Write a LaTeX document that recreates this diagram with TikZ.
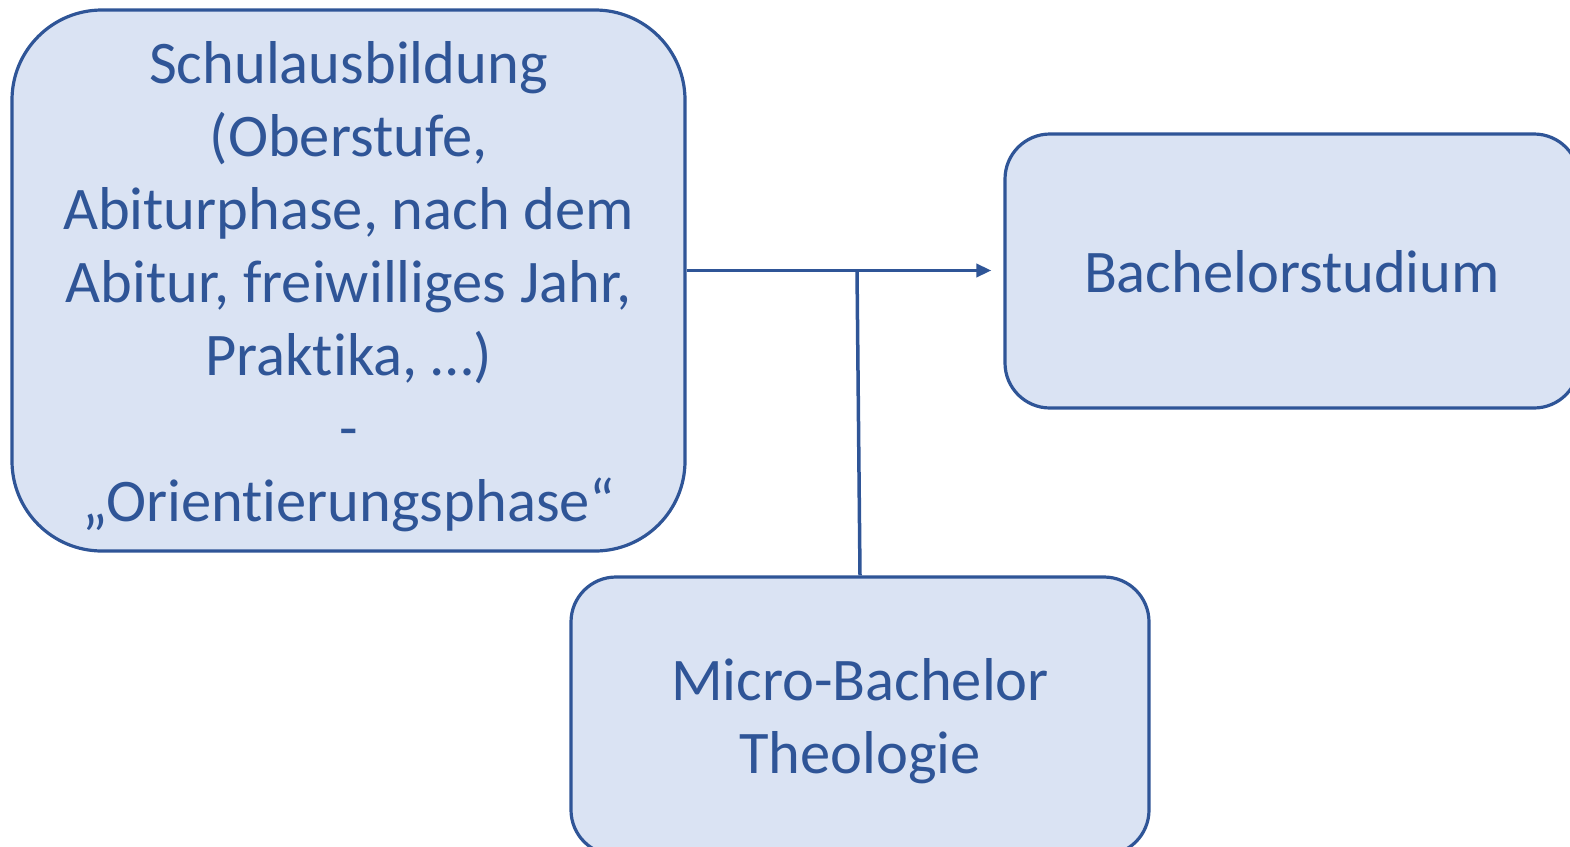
\documentclass[tikz,border=0pt]{standalone}
\usepackage{fontspec}
\setmainfont{Carlito}[Ligatures=NoCommon]
\usetikzlibrary{arrows.meta}
\definecolor{edgeblue}{RGB}{47,85,151}
\definecolor{fillblue}{RGB}{218,227,243}
\newcommand\shifttext[2]{\raisebox{-#1}[\height][\depth]{\begin{tabular}{@{}c@{}}#2\end{tabular}}}
\begin{document}
\begin{tikzpicture}[x=1pt,y=-1pt,
  box/.style={draw=edgeblue,fill=fillblue,line width=3.2pt,inner sep=0pt,
    text=edgeblue,font=\fontsize{60.5}{73}\selectfont},
  conn/.style={draw=edgeblue,line width=3.5pt},
]
\useasboundingbox (0,0) rectangle (1570,846);
\clip (0,0) rectangle (1570,846);
\node[box,minimum width=673pt,minimum height=541pt,rounded corners=90pt] (school) at (348.5,280.5)
  {\shifttext{7pt}{Schulausbildung\\(Oberstufe,\\Abiturphase, nach dem\\Abitur, freiwilliges Jahr,\\Praktika, …)\\-\\„Orientierungsphase“}};
\node[box,minimum width=574pt,minimum height=274pt,rounded corners=45pt] (bachelor) at (1292,271)
  {\shifttext{7pt}{Bachelorstudium}};
\node[box,minimum width=578pt,minimum height=278pt,rounded corners=45pt] (micro) at (860,716)
  {\shifttext{6pt}{Micro-Bachelor\\Theologie}};
\coordinate (j) at (857,270);
\draw[conn,-{Triangle[length=15pt,width=13pt]},shorten >=12pt] ([yshift=10pt]school.east) -- ([yshift=10pt]school.east -| bachelor.west);
\draw[conn] (j) -- (micro.north);
\end{tikzpicture}
\end{document}
